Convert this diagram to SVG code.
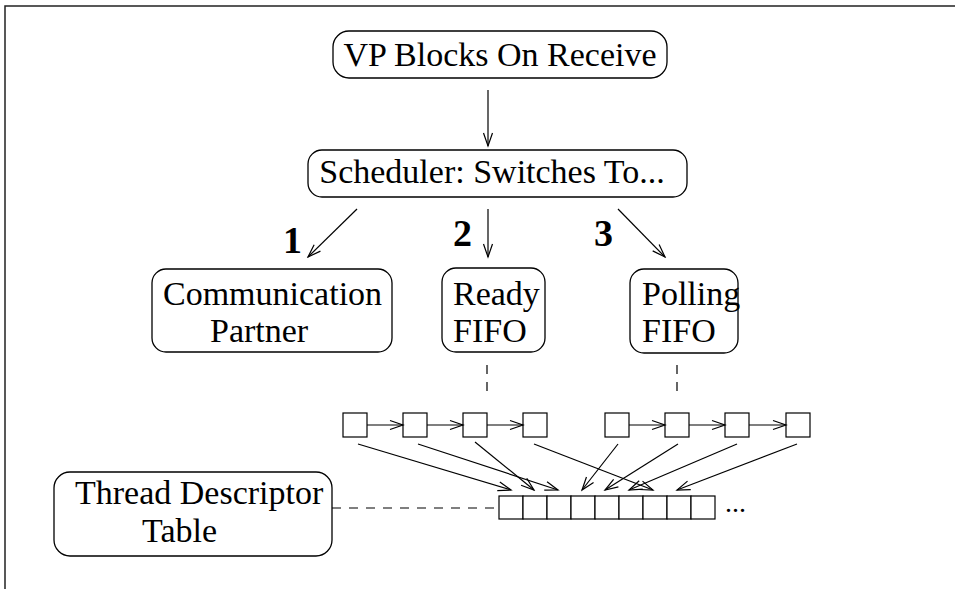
<svg xmlns="http://www.w3.org/2000/svg" width="955" height="589" viewBox="0 0 955 589">
  <style>
    .box { fill: none; stroke: #000; stroke-width: 1.3; }
    .lbl { font-family: "Liberation Serif", "Times New Roman", serif; font-size: 34px; fill: #000; }
    .num { font-family: "Liberation Serif", "Times New Roman", serif; font-size: 38px; font-weight: bold; fill: #000; }
    .edge { fill: none; stroke: #000; stroke-width: 1.2; marker-end: url(#vhead); }
    .dash { fill: none; stroke: #000; stroke-width: 1.2; stroke-dasharray: 9 8; }
    .cell { fill: #fff; stroke: #000; stroke-width: 1.2; }
  </style>
  <defs>
    <marker id="vhead" markerUnits="userSpaceOnUse" markerWidth="16" markerHeight="12" refX="14" refY="6" orient="auto">
      <path d="M1,1.5 L14,6 L1,10.5" fill="none" stroke="#000" stroke-width="1.2"/>
    </marker>
  </defs>
  <rect width="955" height="589" fill="#fff"/>

  <!-- page frame -->
  <path d="M5,589 L5,6 L955,6" fill="none" stroke="#222" stroke-width="1.5"/>

  <g id="vp-blocks">
    <rect class="box" x="333" y="31" width="334" height="47" rx="16"/>
    <text class="lbl" x="500" y="66" text-anchor="middle">VP Blocks On Receive</text>
  </g>

  <g id="scheduler">
    <rect class="box" x="308" y="150" width="379" height="47" rx="14"/>
    <text class="lbl" x="492" y="183" text-anchor="middle">Scheduler: Switches To...</text>
  </g>

  <g id="comm-partner">
    <rect class="box" x="152" y="269" width="240" height="83" rx="14"/>
    <text class="lbl" x="163" y="305">Communication</text>
    <text class="lbl" x="210" y="342">Partner</text>
  </g>

  <g id="ready-fifo">
    <rect class="box" x="442" y="268" width="103" height="84" rx="14"/>
    <text class="lbl" x="453" y="305">Ready</text>
    <text class="lbl" x="453" y="342">FIFO</text>
  </g>

  <g id="polling-fifo">
    <rect class="box" x="630" y="269" width="108" height="84" rx="14"/>
    <text class="lbl" x="642" y="305">Polling</text>
    <text class="lbl" x="642" y="342">FIFO</text>
  </g>

  <g id="thread-table">
    <rect class="box" x="54" y="472" width="278" height="84" rx="16"/>
    <text class="lbl" x="75" y="504">Thread Descriptor</text>
    <text class="lbl" x="142" y="542">Table</text>
  </g>

  <g id="ready-queue">
    <rect class="cell" x="343" y="413" width="24" height="24"/>
    <rect class="cell" x="403" y="413" width="24" height="24"/>
    <rect class="cell" x="463" y="413" width="24" height="24"/>
    <rect class="cell" x="523" y="413" width="24" height="24"/>
  </g>

  <g id="polling-queue">
    <rect class="cell" x="605" y="413" width="24" height="24"/>
    <rect class="cell" x="665" y="413" width="24" height="24"/>
    <rect class="cell" x="725" y="413" width="24" height="24"/>
    <rect class="cell" x="786" y="413" width="24" height="24"/>
  </g>

  <g id="descriptor-array">
    <rect class="cell" x="499" y="496" width="24" height="23"/>
    <rect class="cell" x="523" y="496" width="24" height="23"/>
    <rect class="cell" x="547" y="496" width="24" height="23"/>
    <rect class="cell" x="571" y="496" width="24" height="23"/>
    <rect class="cell" x="595" y="496" width="24" height="23"/>
    <rect class="cell" x="619" y="496" width="24" height="23"/>
    <rect class="cell" x="643" y="496" width="24" height="23"/>
    <rect class="cell" x="667" y="496" width="24" height="23"/>
    <rect class="cell" x="691" y="496" width="24" height="23"/>
    <text class="lbl" x="725" y="512" style="font-size:28px">...</text>
  </g>

  <g id="choice-labels">
    <text class="num" x="283" y="253">1</text>
    <text class="num" x="453" y="246">2</text>
    <text class="num" x="594" y="246">3</text>
  </g>

  <g id="connectors">
    <line class="edge" x1="488" y1="90" x2="488" y2="146"/>
    <line class="edge" x1="357" y1="209" x2="308" y2="257"/>
    <line class="edge" x1="488" y1="209" x2="488" y2="257"/>
    <line class="edge" x1="618" y1="209" x2="665" y2="257"/>

    <line class="dash" x1="487" y1="365" x2="487" y2="395"/>
    <line class="dash" x1="677" y1="365" x2="677" y2="395"/>
    <line class="dash" x1="332" y1="508" x2="497" y2="508"/>

    <line class="edge" x1="367" y1="425" x2="403" y2="425"/>
    <line class="edge" x1="427" y1="425" x2="463" y2="425"/>
    <line class="edge" x1="487" y1="425" x2="523" y2="425"/>
    <line class="edge" x1="629" y1="425" x2="665" y2="425"/>
    <line class="edge" x1="689" y1="425" x2="725" y2="425"/>
    <line class="edge" x1="749" y1="425" x2="786" y2="425"/>

    <line class="edge" x1="358" y1="444" x2="511" y2="490"/>
    <line class="edge" x1="418" y1="444" x2="558" y2="490"/>
    <line class="edge" x1="475" y1="442" x2="534" y2="490"/>
    <line class="edge" x1="534" y1="444" x2="653" y2="490"/>
    <line class="edge" x1="618" y1="444" x2="582" y2="490"/>
    <line class="edge" x1="678" y1="444" x2="605" y2="490"/>
    <line class="edge" x1="737" y1="444" x2="629" y2="490"/>
    <line class="edge" x1="797" y1="444" x2="677" y2="490"/>
  </g>
</svg>
